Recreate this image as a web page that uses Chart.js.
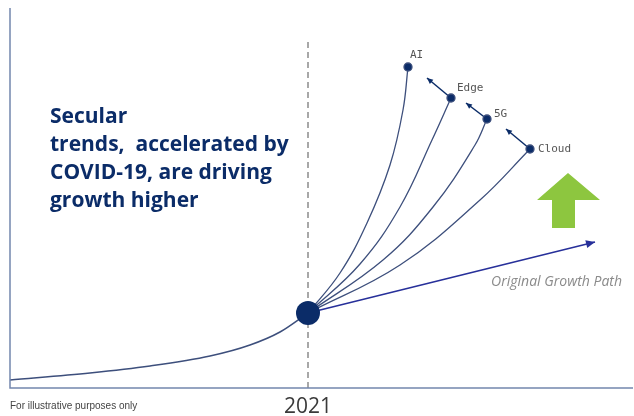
<!DOCTYPE html>
<html>
<head>
<meta charset="utf-8">
<script src="https://cdn.jsdelivr.net/npm/chart.js@4"></script>
<style>body{margin:0;background:#fff}</style>
</head>
<body>
<canvas id="chart" width="634" height="416"></canvas>
<script>
// illustrative curves, units of the plot frame (x 0..623, y 0..380)
const baseX = [0, 80, 140, 200, 240, 270, 298];
const baseY = [8, 15, 22, 32, 43, 56, 75];

const aiX = [298, 330, 357, 380, 393, 398];
const aiY = [75, 115, 165, 223, 278, 321];
const edgeX = [298, 350, 390, 422, 441];
const edgeY = [75, 124, 181, 248, 290];
const g5X = [298, 373, 423, 465, 477];
const g5Y = [75, 128, 181, 243, 269];
const cloudX = [298, 390, 470, 520];
const cloudY = [75, 123, 188, 239];
const originalX = [298, 585];
const originalY = [75, 146];

// short arrows off the Edge / 5G / Cloud tips
const edgeArrowX = [441, 417];
const edgeArrowY = [290, 310];
const g5ArrowX = [477, 456];
const g5ArrowY = [269, 285];
const cloudArrowX = [520, 496];
const cloudArrowY = [239, 259];

const greenX = [558, 590, 565, 565, 542, 542, 527, 558];
const greenY = [215, 188, 188, 160, 160, 188, 188, 215];

const year = 2021;
const yearX = 298;
const trendLabels = ['AI', 'Edge', '5G', 'Cloud'];

const navy = '#0b2c68';
const lineCol = '#3d4f7c';

function pts(xs, ys) {
    return xs.map((x, i) => ({ x: x, y: ys[i] }));
}
function lastDot(n) {
    return Array.from({ length: n }, (_, i) => (i === n - 1 ? 4 : 0));
}

const arrowPlugin = {
    id: 'arrows',
    afterDatasetsDraw(chart) {
        const ctx = chart.ctx;
        chart.data.datasets.forEach((ds, i) => {
            if (!ds.arrow) return;
            const pts = chart.getDatasetMeta(i).data;
            const a = pts[pts.length - 2], b = pts[pts.length - 1];
            const ang = Math.atan2(b.y - a.y, b.x - a.x);
            const s = ds.arrow;
            ctx.save();
            ctx.fillStyle = ds.borderColor;
            ctx.beginPath();
            ctx.moveTo(b.x, b.y);
            ctx.lineTo(b.x - s * Math.cos(ang) + s * 0.45 * Math.sin(ang), b.y - s * Math.sin(ang) - s * 0.45 * Math.cos(ang));
            ctx.lineTo(b.x - s * Math.cos(ang) - s * 0.45 * Math.sin(ang), b.y - s * Math.sin(ang) + s * 0.45 * Math.cos(ang));
            ctx.closePath();
            ctx.fill();
            ctx.restore();
        });
    }
};

const textPlugin = {
    id: 'texts',
    afterDraw(chart) {
        const ctx = chart.ctx;
        const xs = chart.scales.x, ys = chart.scales.y;
        const area = chart.chartArea;
        ctx.save();
        // axes
        ctx.strokeStyle = '#7386ad';
        ctx.lineWidth = 1.5;
        ctx.beginPath();
        ctx.moveTo(area.left, area.top);
        ctx.lineTo(area.left, area.bottom);
        ctx.lineTo(area.right, area.bottom);
        ctx.stroke();

        // trend labels next to the tips
        ctx.font = '11px "DejaVu Sans Mono"';
        ctx.fillStyle = '#555';
        ctx.textBaseline = 'middle';
        const tips = [[aiX, aiY, 2, -12], [edgeX, edgeY, 6, -10], [g5X, g5Y, 7, -5], [cloudX, cloudY, 8, 0]];
        tips.forEach((t, i) => {
            const px = xs.getPixelForValue(t[0][t[0].length - 1]);
            const py = ys.getPixelForValue(t[1][t[1].length - 1]);
            ctx.fillText(trendLabels[i], px + t[2], py + t[3]);
        });

        ctx.font = 'italic 14px "Open Sans"';
        ctx.fillStyle = '#8a8a8a';
        ctx.textAlign = 'right';
        ctx.textBaseline = 'alphabetic';
        ctx.fillText('Original Growth Path', xs.getPixelForValue(originalX[1]) + 27, ys.getPixelForValue(originalY[1]) + 44);

        // headline
        ctx.textAlign = 'left';
        ctx.fillStyle = navy;
        ctx.font = 'bold 21px "Open Sans"';
        ['Secular', 'trends,  accelerated by', 'COVID-19, are driving', 'growth higher']
            .forEach((l, i) => ctx.fillText(l, 50, 123 + i * 28));

        // year and footnote
        ctx.textAlign = 'center';
        ctx.fillStyle = '#3a3a3a';
        ctx.font = '21px "Open Sans"';
        ctx.fillText(String(year), xs.getPixelForValue(yearX), 413);
        ctx.textAlign = 'left';
        ctx.font = '10px "Liberation Sans"';
        ctx.fillStyle = '#444';
        ctx.fillText('For illustrative purposes only', 10, 409);
        ctx.restore();
    }
};

const fan = { showLine: true, borderColor: lineCol, borderWidth: 1.3, backgroundColor: navy, tension: 0.4 };

new Chart(document.getElementById('chart'), {
    type: 'scatter',
    data: {
        datasets: [
            { data: [{ x: yearX, y: baseY[baseY.length - 1] }], pointRadius: 12, backgroundColor: navy, borderWidth: 0 },
            { data: pts(baseX, baseY), showLine: true, borderColor: lineCol, borderWidth: 1.5, pointRadius: 0, cubicInterpolationMode: 'monotone' },
            { ...fan, data: pts(aiX, aiY), pointRadius: lastDot(aiX.length) },
            { ...fan, data: pts(edgeX, edgeY), pointRadius: lastDot(edgeX.length) },
            { ...fan, data: pts(g5X, g5Y), pointRadius: lastDot(g5X.length) },
            { ...fan, data: pts(cloudX, cloudY), pointRadius: lastDot(cloudX.length) },
            { data: pts(originalX, originalY), showLine: true, borderColor: '#27309a', borderWidth: 1.6, pointRadius: 0, arrow: 9 },
            { data: pts(edgeArrowX, edgeArrowY), showLine: true, borderColor: navy, borderWidth: 1.5, pointRadius: 0, arrow: 6 },
            { data: pts(g5ArrowX, g5ArrowY), showLine: true, borderColor: navy, borderWidth: 1.5, pointRadius: 0, arrow: 6 },
            { data: pts(cloudArrowX, cloudArrowY), showLine: true, borderColor: navy, borderWidth: 1.5, pointRadius: 0, arrow: 6 },
            { data: [{ x: yearX, y: 0 }, { x: yearX, y: 346 }], showLine: true, borderColor: '#8c8c8c', borderWidth: 1.5, borderDash: [6, 4], pointRadius: 0 },
            { data: pts(greenX, greenY), showLine: true, borderWidth: 0, borderColor: '#8dc63f', backgroundColor: '#8dc63f', fill: 'shape', pointRadius: 0, tension: 0 }
        ]
    },
    options: {
        responsive: false,
        animation: false,
        events: [],
        layout: { autoPadding: false, padding: { left: 10, right: 1, top: 8, bottom: 28 } },
        plugins: { legend: { display: false }, tooltip: { enabled: false } },
        scales: {
            x: { type: 'linear', min: 0, max: 623, display: false },
            y: { type: 'linear', min: 0, max: 380, display: false }
        }
    },
    plugins: [arrowPlugin, textPlugin]
});
</script>
</body>
</html>
